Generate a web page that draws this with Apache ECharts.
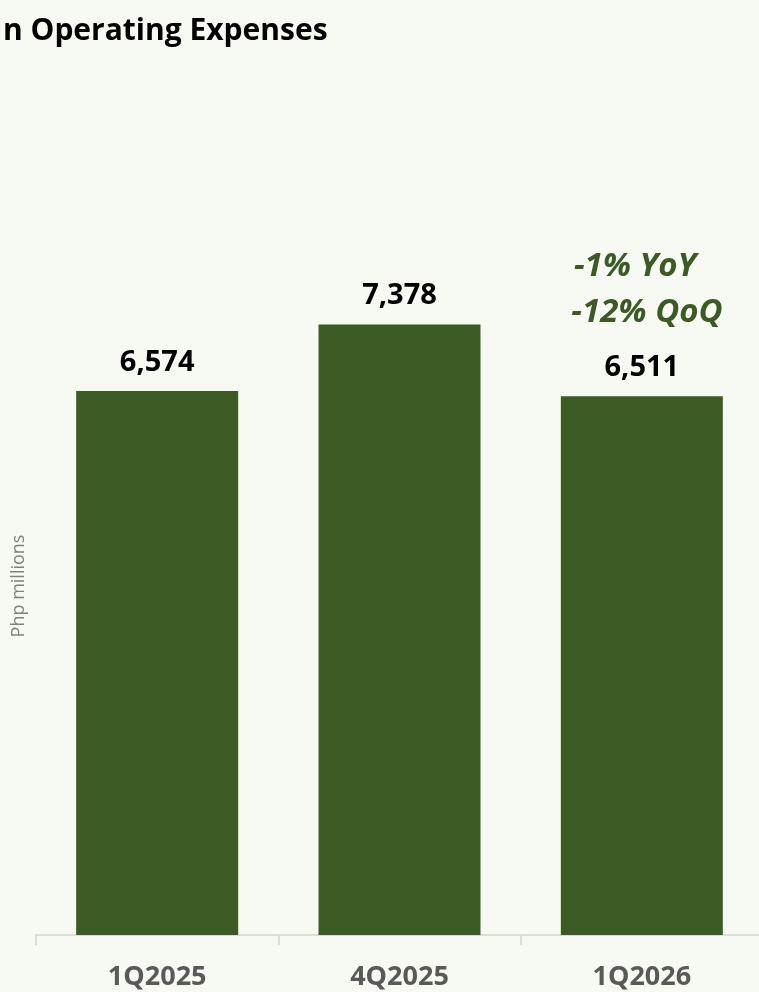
<!DOCTYPE html>
<html>
<head>
<meta charset="utf-8">
<script src="https://cdn.jsdelivr.net/npm/echarts@6/dist/echarts.min.js"></script>
<style>
html,body{margin:0;padding:0;background:#f7f9f3;}
#c{width:759px;height:992px;}
</style>
</head>
<body>
<div id="c"></div>
<script>
const categories = ['1Q2025', '4Q2025', '1Q2026'];
const opex = [6574, 7378, 6511];
const titleText = 'n Operating Expenses';
const yAxisName = 'Php millions';
const changeNotes = ['-1% YoY', '-12% QoQ'];

const chart = echarts.init(document.getElementById('c'));
const green = '#3c5a24';
chart.setOption({
  backgroundColor: '#f7f9f3',
  animation: false,
  title: {
    text: titleText,
    left: -2, top: 11,
    textStyle: {fontFamily: 'Open Sans', fontWeight: 'bold', fontSize: 30, color: '#000'}
  },
  grid: {left: 36, width: 727, top: 273, bottom: 57, outerBoundsMode: 'none', containLabel: false},
  xAxis: {
    type: 'category',
    data: categories,
    axisLine: {lineStyle: {color: '#d4d4d4', width: 1.5}},
    axisTick: {show: true, interval: 0, length: 10, lineStyle: {color: '#d4d4d4', width: 1.5}},
    axisLabel: {margin: 29, interval: 0, fontFamily: 'Open Sans', fontWeight: 'bold', fontSize: 27, color: '#595959'}
  },
  yAxis: {
    type: 'value', min: 0, max: 8000, show: false,
    splitLine: {show: false}
  },
  series: [{
    type: 'bar',
    data: opex,
    barWidth: 162,
    itemStyle: {color: green},
    label: {
      show: true, position: 'top', distance: 14,
      fontFamily: 'Open Sans', fontWeight: 'bold', fontSize: 29, color: '#000',
      formatter: p => p.value.toLocaleString('en-US')
    }
  }],
  graphic: [
    {type: 'text', x: 19, y: 586, rotation: Math.PI / 2,
      style: {text: yAxisName, fontFamily: 'Open Sans', fontSize: 18, fill: '#808080', align: 'center', verticalAlign: 'middle'}},
    {type: 'text', x: 635, y: 267,
      style: {text: changeNotes[0], fontFamily: 'Open Sans', fontWeight: 'bold', fontStyle: 'italic', fontSize: 33, fill: green, align: 'center', verticalAlign: 'middle'}},
    {type: 'text', x: 647, y: 313,
      style: {text: changeNotes[1], fontFamily: 'Open Sans', fontWeight: 'bold', fontStyle: 'italic', fontSize: 33, fill: green, align: 'center', verticalAlign: 'middle'}}
  ]
});
</script>
</body>
</html>
